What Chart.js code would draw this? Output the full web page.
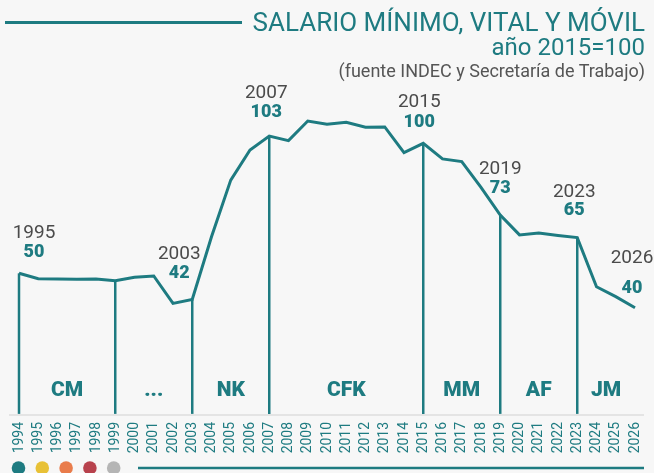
<!DOCTYPE html>
<html>
<head>
<meta charset="utf-8">
<script src="https://cdn.jsdelivr.net/npm/chart.js@4/dist/chart.umd.min.js"></script>
<style>
  html, body { margin: 0; padding: 0; background: #f7f7f7; }
  #wrap { position: relative; width: 654px; height: 473px; overflow: hidden; font-family: Roboto, sans-serif; }
  #grafico { position: absolute; left: 0; top: 0; }
  .tit { position: absolute; right: 9px; white-space: nowrap; color: #1e7b81; }
  #t1 { top: 7px; font-size: 26px; line-height: 30px; }
  #t2 { top: 33px; font-size: 24px; line-height: 28px; }
  #t3 { top: 60px; font-size: 18px; line-height: 21px; color: #555; }
  #raya { position: absolute; left: 5px; top: 21px; width: 237px; height: 3px; background: #1e7b81; }
</style>
</head>
<body>
<div id="wrap">
  <canvas id="grafico" width="654" height="473"></canvas>
  <div id="raya"></div>
  <div class="tit" id="t1">SALARIO MÍNIMO, VITAL Y MÓVIL</div>
  <div class="tit" id="t2">año 2015=100</div>
  <div class="tit" id="t3">(fuente INDEC y Secretaría de Trabajo)</div>
</div>
<script>
const anios = ["1994","1995","1996","1997","1998","1999","2000","2001","2002","2003","2004",
  "2005","2006","2007","2008","2009","2010","2011","2012","2013","2014","2015","2016",
  "2017","2018","2019","2020","2021","2022","2023","2024","2025","2026"];
const salario = [51.6, 49.6, 49.5, 49.4, 49.5, 48.8, 50.1, 50.6, 40.4, 41.9, 65.2,
  86.3, 97.5, 102.7, 101.0, 108.3, 107.1, 107.8, 106.0, 106.1, 96.5, 100.0, 94.2,
  93.2, 83.6, 73.3, 65.9, 66.6, 65.7, 64.9, 46.6, 42.9, 38.8];

// puntos marcados
const marcaAnios = ["1994","2003","2007","2015","2019","2023","2026"];
const marcaTextoAnio = ["1995","2003","2007","2015","2019","2023","2026"];
const marcaValor = ["50","42","103","100","73","65","40"];

// lineas verticales y gobiernos
const cortes = ["1994","1999","2003","2007","2015","2019","2023"];
const gobiernos = ["CM","...","NK","CFK","MM","AF","JM"];
const gobFin = ["1999","2003","2007","2015","2019","2023","2026"];

const coloresPuntos = ["#1e7b81","#e8c136","#e97c4b","#b8424d","#b5b5b5"];

const teal = "#1e7b81";
const gris = "#4b4b4b";
// desplazamiento de etiquetas respecto del punto [dx, dyValor, dyAnio]
const despl = [[15,-21,-40],[-13,-26,-45],[-3,-24,-43],[-4,-21,-41],[0,-27,-46],[-3,-27,-45],[-3,-19,-49]];

const decorado = {
  id: "decorado",
  beforeDatasetsDraw(chart) {
    const { ctx, scales: { x, y } } = chart;
    const base = y.getPixelForValue(0);
    ctx.save();
    ctx.strokeStyle = "#dedede";
    ctx.lineWidth = 1.5;
    ctx.beginPath();
    ctx.moveTo(9, base + 3);
    ctx.lineTo(644, base + 3);
    ctx.stroke();

    ctx.strokeStyle = teal;
    ctx.lineWidth = 2.5;
    cortes.forEach(a => {
      const i = anios.indexOf(a);
      const px = x.getPixelForValue(i);
      ctx.beginPath();
      ctx.moveTo(px, y.getPixelForValue(salario[i]));
      ctx.lineTo(px, base + 2);
      ctx.stroke();
    });

    ctx.fillStyle = teal;
    ctx.font = "900 21px Roboto";
    ctx.textAlign = "center";
    ctx.textBaseline = "middle";
    gobiernos.forEach((g, k) => {
      const x0 = x.getPixelForValue(anios.indexOf(cortes[k]));
      const x1 = x.getPixelForValue(anios.indexOf(gobFin[k]));
      ctx.fillText(g, (x0 + x1) / 2, base - 21);
    });
    ctx.restore();
  },
  afterDraw(chart) {
    const { ctx, scales: { x, y } } = chart;
    ctx.save();
    ctx.textAlign = "center";
    ctx.textBaseline = "middle";
    marcaAnios.forEach((a, k) => {
      const i = anios.indexOf(a);
      const px = x.getPixelForValue(i) + despl[k][0];
      const py = y.getPixelForValue(salario[i]);
      ctx.fillStyle = gris;
      ctx.font = "400 19px Roboto";
      ctx.fillText(marcaTextoAnio[k], px, py + despl[k][2]);
      ctx.fillStyle = teal;
      ctx.font = "900 18px Roboto";
      ctx.fillText(marcaValor[k], px, py + despl[k][1]);
    });

    // pie: puntos de colores y raya
    coloresPuntos.forEach((c, k) => {
      ctx.fillStyle = c;
      ctx.beginPath();
      ctx.arc(18.5 + k * 23.8, 468, 6.8, 0, Math.PI * 2);
      ctx.fill();
    });
    ctx.strokeStyle = teal;
    ctx.lineWidth = 2.5;
    ctx.beginPath();
    ctx.moveTo(138, 468);
    ctx.lineTo(644, 468);
    ctx.stroke();
    ctx.restore();
  }
};

new Chart(document.getElementById("grafico"), {
  type: "line",
  data: {
    labels: anios,
    datasets: [{
      data: salario,
      borderColor: teal,
      borderWidth: 3,
      pointRadius: 0,
      tension: 0,
      fill: false
    }]
  },
  options: {
    responsive: false,
    animation: false,
    layout: { padding: { left: 19, right: 19, top: 89.6, bottom: 0 } },
    plugins: { legend: { display: false }, tooltip: { enabled: false } },
    scales: {
      x: {
        grid: { display: false, drawTicks: false },
        border: { display: false },
        ticks: {
          color: teal,
          font: { family: "Roboto", size: 14 },
          maxRotation: 90,
          minRotation: 90,
          autoSkip: false,
          padding: 10
        },
        afterFit: s => {
          s.height = 61.1;
          s.paddingLeft = 0;
          s.paddingRight = 0;
        }
      },
      y: {
        display: false,
        min: 0,
        max: 120
      }
    }
  },
  plugins: [decorado]
});
</script>
</body>
</html>
